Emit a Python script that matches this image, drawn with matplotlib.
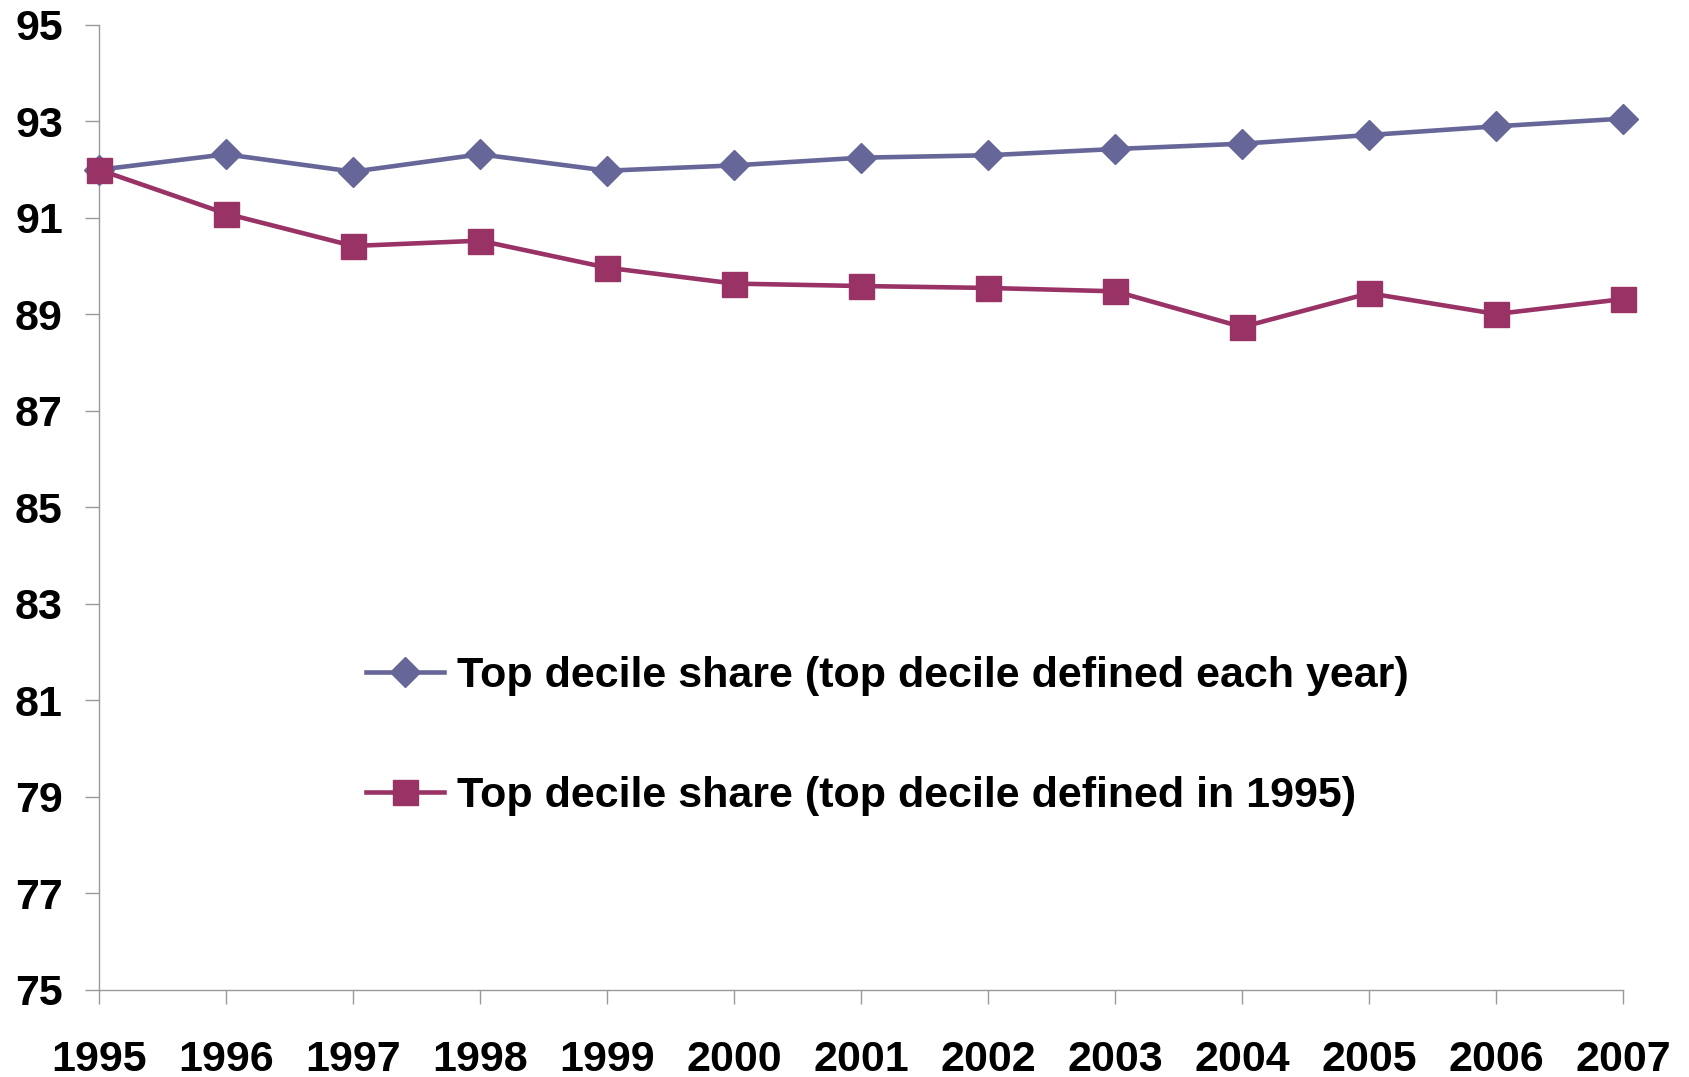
import matplotlib
matplotlib.use("Agg")
from matplotlib import pyplot as plt

years = [1995, 1996, 1997, 1998, 1999, 2000, 2001, 2002, 2003, 2004, 2005, 2006, 2007]
share_each_year = [92.0, 92.32, 91.96, 92.32, 91.98, 92.09, 92.25, 92.30, 92.43, 92.54, 92.72, 92.90, 93.06]
share_1995 = [92.0, 91.09, 90.42, 90.53, 89.97, 89.64, 89.59, 89.55, 89.48, 88.74, 89.44, 89.01, 89.32]
y_ticks = list(range(75, 96, 2))
label_each_year = "Top decile share (top decile defined each year)"
label_1995 = "Top decile share (top decile defined in 1995)"

plt.rcParams['font.family'] = ['Liberation Sans', 'DejaVu Sans']
plt.rcParams['font.weight'] = 'bold'

fig = plt.figure(figsize=(16.9, 10.77), dpi=100)
ax = fig.add_axes([0.0586, 0.0808, 0.902, 0.896])

ax.plot(years, share_each_year, color='#666699', linewidth=3.3,
        marker='D', markersize=15, label=label_each_year, zorder=3)
ax.plot(years, share_1995, color='#993366', linewidth=3.3,
        marker='s', markersize=18, label=label_1995, zorder=4)

ax.set_xlim(1995, 2007)
ax.set_ylim(75, 95)
ax.set_xticks(years)
ax.set_yticks(y_ticks)
ax.tick_params(axis='both', labelsize=31, color='#999999', length=10, width=1)
ax.tick_params(axis='x', pad=26)
ax.tick_params(axis='y', pad=16)
for lbl in ax.get_xticklabels() + ax.get_yticklabels():
    lbl.set_fontweight('bold')

for side in ['top', 'right']:
    ax.spines[side].set_visible(False)
for side in ['left', 'bottom']:
    ax.spines[side].set_color('#999999')
    ax.spines[side].set_linewidth(1)
    ax.spines[side].set_zorder(1)

for ln in ax.get_lines():
    ln.set_clip_on(False)

fig.legend(loc='center left', bbox_to_anchor=(0.2066, 0.3166), frameon=False,
           prop={'size': 31, 'weight': 'bold'}, handlelength=1.8,
           handletextpad=0.3, labelspacing=1.85, borderaxespad=0)

fig.savefig('out.png', dpi=100)
